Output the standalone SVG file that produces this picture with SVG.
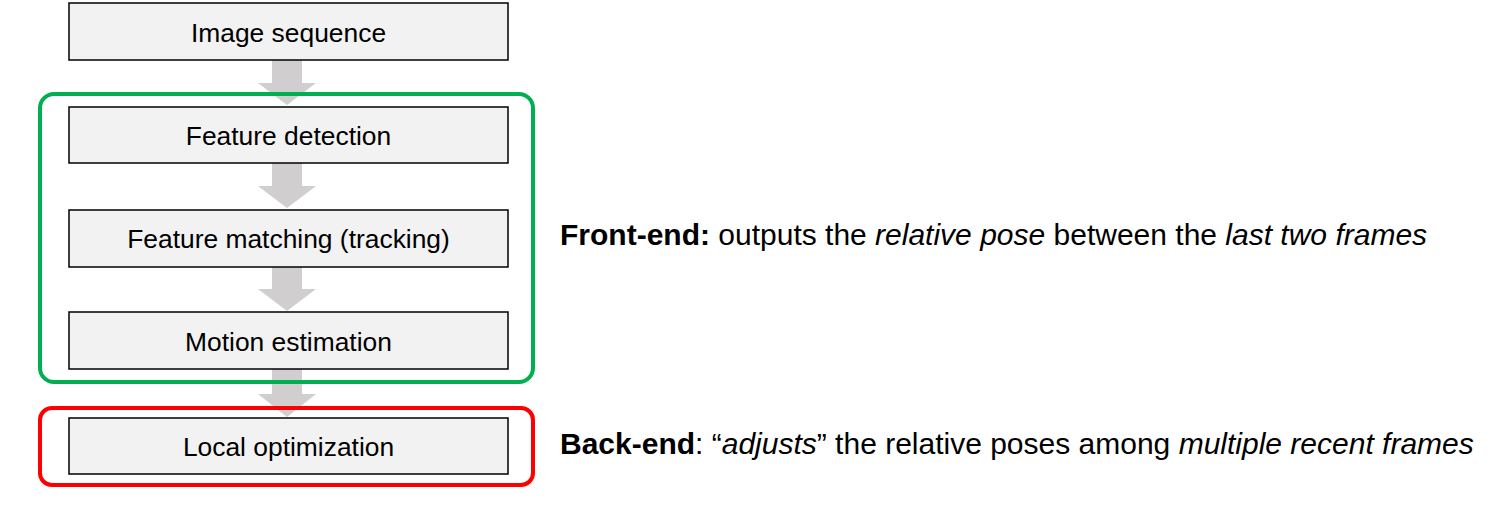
<svg xmlns="http://www.w3.org/2000/svg" width="1509" height="508" viewBox="0 0 1509 508">
<style>
.box{fill:#f2f2f2;stroke:#000;stroke-width:1.5}
.lbl{font-family:"Liberation Sans",Arial,sans-serif;font-size:26.4px;fill:#000;text-anchor:middle}
.desc{font-family:"Liberation Sans",Arial,sans-serif;font-size:30px;fill:#000}
.arr{fill:#d0cece}
.frame{fill:none;stroke-width:4}
</style>
<rect width="1509" height="508" fill="#fff"/>
<g id="connectors">
<polygon class="arr" points="272,60 302,60 302,83 316,83 287,105 258,83 272,83"/>
<polygon class="arr" points="272,163 302,163 302,186 316,186 287,208 258,186 272,186"/>
<polygon class="arr" points="272,267 302,267 302,289 316,289 287,311 258,289 272,289"/>
<polygon class="arr" points="272,369 302,369 302,394 316,394 287,417 258,394 272,394"/>
</g>
<g id="front-end-frame"><rect class="frame" x="40" y="94" width="493" height="288" rx="14" stroke="#00b050"/></g>
<g id="back-end-frame"><rect class="frame" x="40" y="408" width="493" height="77" rx="12" stroke="#ff0000"/></g>
<g id="image-sequence"><rect class="box" x="69" y="3" width="439" height="57"/><text class="lbl" x="288.5" y="42">Image sequence</text></g>
<g id="feature-detection"><rect class="box" x="69" y="107" width="439" height="56"/><text class="lbl" x="288.5" y="145">Feature detection</text></g>
<g id="feature-matching"><rect class="box" x="69" y="210" width="439" height="57"/><text class="lbl" x="288.5" y="248">Feature matching (tracking)</text></g>
<g id="motion-estimation"><rect class="box" x="69" y="312" width="439" height="57"/><text class="lbl" x="288.5" y="351">Motion estimation</text></g>
<g id="local-optimization"><rect class="box" x="69" y="418" width="439" height="56"/><text class="lbl" x="288.5" y="456">Local optimization</text></g>
<g id="front-end-desc"><text class="desc" x="560" y="245"><tspan font-weight="bold">Front-end:</tspan> outputs the <tspan font-style="italic">relative pose</tspan> between the <tspan font-style="italic">last two frames</tspan></text></g>
<g id="back-end-desc"><text class="desc" x="560" y="454"><tspan font-weight="bold">Back-end</tspan>: “<tspan font-style="italic">adjusts</tspan>” the relative poses among <tspan font-style="italic">multiple recent frames</tspan></text></g>
</svg>
